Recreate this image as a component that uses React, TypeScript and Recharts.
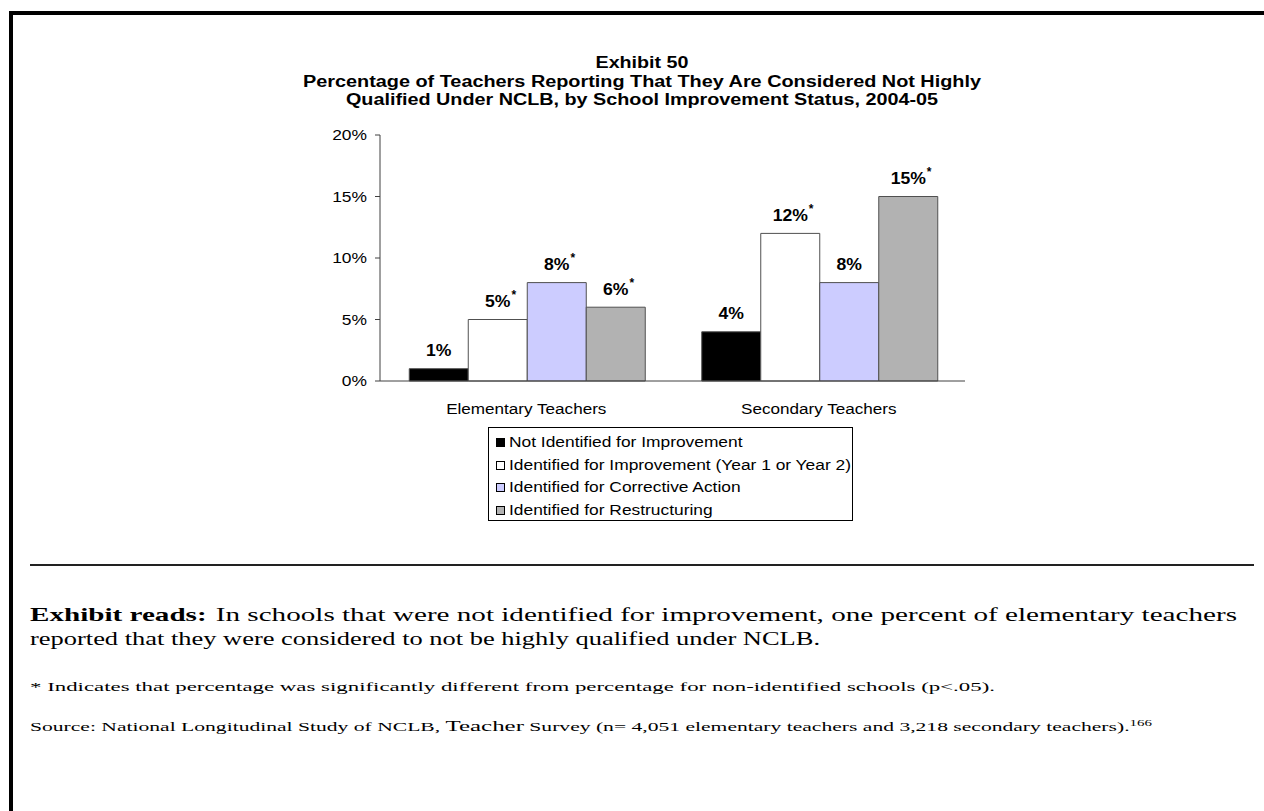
import React from "react"
import { Bar, BarChart, LabelList, XAxis, YAxis } from "recharts"

const categories = ["Elementary Teachers", "Secondary Teachers"]
const seriesNames = [
  "Not Identified for Improvement",
  "Identified for Improvement (Year 1 or Year 2)",
  "Identified for Corrective Action",
  "Identified for Restructuring",
]
const notIdentified = [1, 4]
const identifiedImprovement = [5, 12]
const correctiveAction = [8, 8]
const restructuring = [6, 15]
// true where the value carries an asterisk (significant vs non-identified)
const notIdentifiedSig = [false, false]
const identifiedImprovementSig = [true, true]
const correctiveActionSig = [true, false]
const restructuringSig = [true, true]
const yTicks = [0, 5, 10, 15, 20]

const titleLines = [
  "Exhibit 50",
  "Percentage of Teachers Reporting That They Are Considered Not Highly",
  "Qualified Under NCLB, by School Improvement Status, 2004-05",
]

const series = [
  { key: "notIdentified", name: seriesNames[0], values: notIdentified, sig: notIdentifiedSig, fill: "#000000" },
  { key: "improvement", name: seriesNames[1], values: identifiedImprovement, sig: identifiedImprovementSig, fill: "#FFFFFF" },
  { key: "corrective", name: seriesNames[2], values: correctiveAction, sig: correctiveActionSig, fill: "#CCCCFF" },
  { key: "restructuring", name: seriesNames[3], values: restructuring, sig: restructuringSig, fill: "#B2B2B2" },
]

const data = categories.map((name, i) => {
  const row: any = { name }
  series.forEach((s) => {
    row[s.key] = s.values[i]
    row[s.key + "Label"] = `${s.values[i]}%${s.sig[i] ? "*" : ""}`
  })
  return row
})

const SANS = "'Liberation Sans', Arial, sans-serif"
const SERIF = "'Liberation Serif', 'Times New Roman', serif"

const YTick = (props: any) => {
  const { x, y, payload } = props
  return (
    <g transform={`translate(${x},${y}) scale(1.2,1)`}>
      <text x={0} y={5} textAnchor="end" fontSize={14.5} fontFamily={SANS} fill="#000">
        {payload.value}%
      </text>
    </g>
  )
}

const XTick = (props: any) => {
  const { x, y, payload } = props
  return (
    <g transform={`translate(${x},${y + 25}) scale(1.18,1)`}>
      <text x={0} y={0} textAnchor="middle" fontSize={14.5} fontFamily={SANS} fill="#000">
        {payload.value}
      </text>
    </g>
  )
}

const BarLabel = (props: any) => {
  const vb = props.viewBox || {}
  const x = Number(props.x ?? vb.x)
  const y = Number(props.y ?? vb.y)
  const width = Number(props.width ?? vb.width)
  const str = String(props.value)
  const star = str.endsWith("*")
  const num = star ? str.slice(0, -1) : str
  const cx = x + width / 2
  const base = y - 12.5
  const w = ((num.length - 1) * 0.556 + 0.889) * 16 * 1.1
  return (
    <g>
      <g transform={`translate(${cx},${base}) scale(1.1,1)`}>
        <text x={0} y={0} textAnchor="middle" fontSize={16} fontWeight="bold" fontFamily={SANS} fill="#000">
          {num}
        </text>
      </g>
      {star && (
        <text x={cx + w / 2 + 1} y={base - 8} textAnchor="start" fontSize={12} fontWeight="bold" fontFamily={SANS} fill="#000">
          *
        </text>
      )}
    </g>
  )
}

const App = () => {
  return (
    <div style={{ position: "absolute", left: 0, top: 0, width: 1264, height: 811, background: "#fff", overflow: "hidden" }}>
      {/* frame */}
      <div style={{ position: "absolute", left: 9, top: 11, width: 1255, height: 4, background: "#000" }} />
      <div style={{ position: "absolute", left: 9, top: 11, width: 4, height: 800, background: "#000" }} />
      <div style={{ position: "absolute", left: 30, top: 564, width: 1224, height: 2, background: "#222" }} />

      <div style={{ position: "absolute", left: 0, top: 0 }}>
        <BarChart
          width={1264}
          height={430}
          data={data}
          margin={{ top: 135, right: 299, bottom: 19, left: 320 }}
          barCategoryGap="10%"
          barGap={0}>
          <XAxis
            dataKey="name"
            tickLine={false}
            axisLine={{ stroke: "#404040" }}
            tick={(p: any) => <XTick {...p} />}
            height={30}
            interval={0}
          />
          <YAxis
            domain={[0, 20]}
            ticks={yTicks}
            interval={0}
            tickSize={5}
            tickMargin={8}
            axisLine={{ stroke: "#404040" }}
            tickLine={{ stroke: "#404040" }}
            tick={(p: any) => <YTick {...p} />}
            width={60}
          />
          {series.map((s) => (
            <Bar key={s.key} dataKey={s.key} name={s.name} fill={s.fill} stroke="#505050" strokeWidth={1} isAnimationActive={false}>
              <LabelList dataKey={s.key + "Label"} content={(p: any) => <BarLabel {...p} />} />
            </Bar>
          ))}
        </BarChart>
      </div>

      {/* legend */}
      <div
        style={{
          position: "absolute",
          left: 488,
          top: 427,
          width: 365,
          height: 94,
          border: "1px solid #000",
          boxSizing: "border-box",
          paddingTop: 3,
          background: "#fff",
        }}>
        {series.map((s) => (
          <div key={s.key} style={{ position: "relative", height: 22.6 }}>
            <div
              style={{
                position: "absolute",
                left: 7,
                top: 7,
                width: 9,
                height: 9,
                border: "1px solid #000",
                background: s.fill,
                boxSizing: "border-box",
              }}
            />
            <div
              style={{
                position: "absolute",
                left: 20,
                top: 2,
                fontFamily: SANS,
                fontSize: 14,
                lineHeight: "18px",
                whiteSpace: "nowrap",
                transform: "scaleX(1.24)",
                transformOrigin: "left center",
                color: "#000",
              }}>
              {s.name}
            </div>
          </div>
        ))}
      </div>

      {/* title and notes */}
      <svg width={1264} height={811} style={{ position: "absolute", left: 0, top: 0, pointerEvents: "none" }}>
        <g fontFamily={SANS} fontWeight="bold" fontSize={16} fill="#000" textAnchor="middle">
          <text x={642} y={68} textLength={93} lengthAdjust="spacingAndGlyphs">{titleLines[0]}</text>
          <text x={642} y={86.5} textLength={678} lengthAdjust="spacingAndGlyphs">{titleLines[1]}</text>
          <text x={642} y={105} textLength={592} lengthAdjust="spacingAndGlyphs">{titleLines[2]}</text>
        </g>
        <g fontFamily={SERIF} fill="#000">
          <text x={30} y={621} fontSize={19} textLength={1207} lengthAdjust="spacingAndGlyphs">
            <tspan fontWeight="bold">Exhibit reads:</tspan>
            <tspan dx={6}>In schools that were not identified for improvement, one percent of elementary teachers</tspan>
          </text>
          <text x={30} y={645} fontSize={19} textLength={790} lengthAdjust="spacingAndGlyphs">
            reported that they were considered to not be highly qualified under NCLB.
          </text>
          <text x={30} y={691} fontSize={13} textLength={965} lengthAdjust="spacingAndGlyphs">
            * Indicates that percentage was significantly different from percentage for non-identified schools (p&lt;.05).
          </text>
          <text x={30} y={731} fontSize={13} textLength={1122} lengthAdjust="spacingAndGlyphs">
            <tspan>Source: National Longitudinal Study of NCLB, </tspan>
            <tspan fontSize={15}>Teacher</tspan>
            <tspan> Survey (n= 4,051 elementary teachers and 3,218 secondary teachers).</tspan>
            <tspan fontSize={9} dy={-5}>166</tspan>
          </text>
        </g>
      </svg>
    </div>
  )
}

export default App
